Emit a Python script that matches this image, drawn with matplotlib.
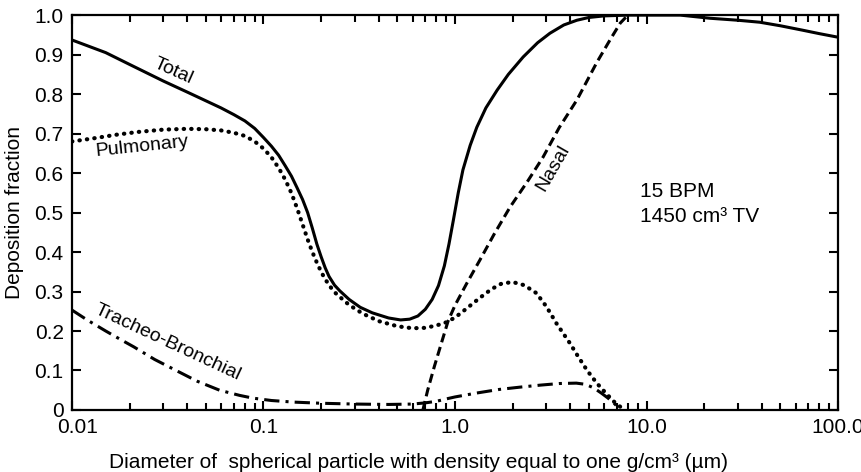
import numpy as np
from matplotlib import pyplot as plt
from matplotlib import transforms
from matplotlib.ticker import FixedLocator, LogLocator, NullFormatter

plt.rcParams['font.family'] = ['Liberation Sans', 'DejaVu Sans']

# values
total_x = [0.01, 0.015, 0.02, 0.03, 0.04, 0.05, 0.06, 0.07, 0.08, 0.09, 0.1, 0.11, 0.12,
           0.13, 0.14, 0.15, 0.16, 0.17, 0.18, 0.19, 0.2, 0.21, 0.22, 0.235, 0.25, 0.28,
           0.32, 0.37, 0.45, 0.52, 0.58, 0.64, 0.7, 0.76, 0.82, 0.88, 0.93, 0.98, 1.04, 1.1,
           1.2, 1.3, 1.45, 1.66, 1.9, 2.27, 2.7, 3.13, 3.7, 4.33, 5.0, 6.0, 8.0, 15.0, 21.5,
           30.0, 39.0, 50.0, 65.0, 80.0, 100.0]
total_y = [0.937, 0.905, 0.875, 0.833, 0.805, 0.783, 0.765, 0.748, 0.732, 0.713, 0.69,
           0.668, 0.645, 0.618, 0.592, 0.562, 0.533, 0.5, 0.46, 0.42, 0.388, 0.36, 0.338,
           0.316, 0.302, 0.28, 0.26, 0.246, 0.233, 0.228, 0.23, 0.238, 0.255, 0.28, 0.315,
           0.365, 0.42, 0.48, 0.55, 0.608, 0.67, 0.716, 0.765, 0.81, 0.85, 0.894, 0.93, 0.954,
           0.975, 0.987, 0.994, 0.998, 1.0, 1.0, 0.992, 0.987, 0.982, 0.973, 0.962, 0.953,
           0.944]

pulm_x = [0.01, 0.013, 0.017, 0.022, 0.03, 0.04, 0.05, 0.06, 0.07, 0.08, 0.09, 0.1, 0.11,
          0.12, 0.13, 0.14, 0.15, 0.16, 0.17, 0.18, 0.19, 0.2, 0.21, 0.225, 0.24, 0.28, 0.33,
          0.4, 0.5, 0.6, 0.7, 0.8, 0.9, 1.0, 1.15, 1.34, 1.55, 1.75, 2.0, 2.3, 2.66, 3.0,
          3.4, 3.97, 4.4, 4.9, 5.5, 6.2, 6.8, 7.3, 7.6]
pulm_y = [0.68, 0.688, 0.697, 0.704, 0.71, 0.712, 0.711, 0.708, 0.702, 0.694, 0.68, 0.662,
          0.64, 0.613, 0.583, 0.549, 0.51, 0.47, 0.432, 0.4, 0.373, 0.35, 0.331, 0.31, 0.294,
          0.266, 0.244, 0.225, 0.212, 0.207, 0.208, 0.214, 0.222, 0.234, 0.257, 0.283, 0.306,
          0.32, 0.324, 0.316, 0.296, 0.262, 0.218, 0.17, 0.135, 0.10, 0.068, 0.04, 0.02,
          0.008, 0.0]

tb_x = [0.01, 0.012, 0.015, 0.018, 0.021, 0.027, 0.035, 0.045, 0.059, 0.075, 0.088, 0.11,
        0.143, 0.2, 0.3, 0.45, 0.6, 0.7, 0.8, 0.9, 1.0, 1.3, 1.7, 2.2, 2.8, 3.5, 4.3, 4.8,
        5.3, 5.8, 6.3, 6.8, 7.2]
tb_y = [0.253, 0.228, 0.2, 0.178, 0.16, 0.128, 0.10, 0.073, 0.05, 0.037, 0.03, 0.024, 0.02,
        0.017, 0.015, 0.014, 0.015, 0.018, 0.022, 0.028, 0.033, 0.043, 0.052, 0.058, 0.063,
        0.067, 0.068, 0.065, 0.056, 0.043, 0.03, 0.016, 0.004]

nasal_x = [0.68, 0.72, 0.78, 0.85, 0.92, 1.0, 1.15, 1.35, 1.6, 1.94, 2.4, 2.88, 3.5, 4.33,
           5.5, 6.5, 7.3, 8.0]
nasal_y = [0.0, 0.05, 0.11, 0.17, 0.225, 0.265, 0.32, 0.38, 0.445, 0.514, 0.58, 0.64, 0.715,
           0.785, 0.88, 0.94, 0.98, 1.0]

x_ticks = [0.01, 0.1, 1.0, 10.0, 100.0]
x_tick_labels = ['0.01', '0.1', '1.0', '10.0', '100.0']
y_ticks = [0, 0.1, 0.2, 0.3, 0.4, 0.5, 0.6, 0.7, 0.8, 0.9, 1.0]
y_tick_labels = ['0', '0.1', '0.2', '0.3', '0.4', '0.5', '0.6', '0.7', '0.8', '0.9', '1.0']


def draw_chart():
    fig = plt.figure(figsize=(8.61, 4.72), dpi=100)
    ax = fig.add_axes([0.0836, 0.1314, 0.8897, 0.8366])

    ax.plot(total_x, total_y, color='black', lw=2.2, solid_capstyle='round')
    ax.plot(pulm_x, pulm_y, color='black', lw=3.0, linestyle=(0, (0.1, 1.7)),
            dash_capstyle='round')
    ax.plot(tb_x, tb_y, color='black', lw=2.2, linestyle=(0, (5, 2, 1, 2)))
    ax.plot(nasal_x, nasal_y, color='black', lw=2.2, linestyle=(0, (3, 1.6)))

    ax.set_xscale('log')
    ax.set_xlim(0.01, 100)
    ax.set_ylim(0, 1.0)

    ax.xaxis.set_major_locator(FixedLocator(x_ticks))
    ax.set_xticklabels(x_tick_labels)
    ax.xaxis.set_minor_locator(LogLocator(base=10, subs=np.arange(2, 10)))
    ax.xaxis.set_minor_formatter(NullFormatter())
    ax.set_yticks(y_ticks)
    ax.set_yticklabels(y_tick_labels)

    ax.tick_params(which='both', direction='in', top=True, right=True,
                   labelsize=15, width=1.5, pad=6)
    ax.tick_params(which='major', length=6.5)
    ax.tick_params(which='minor', length=5)
    for s in ax.spines.values():
        s.set_linewidth(1.6)

    # first x label sits a little right of its tick in the original
    lbl = ax.get_xticklabels()[0]
    lbl.set_transform(lbl.get_transform() +
                      transforms.ScaledTranslation(4 / 72, 0, fig.dpi_scale_trans))

    ax.set_xlabel('Diameter of  spherical particle with density equal to one g/cm³ (µm)',
                  fontsize=15)
    ax.xaxis.set_label_coords(0.452, -0.11)
    ax.set_ylabel('Deposition fraction', fontsize=15)
    ax.yaxis.set_label_coords(-0.062, 0.5)

    # curve labels
    ax.text(0.0337, 0.858, 'Total', fontsize=14, rotation=-24, ha='center', va='center',
            rotation_mode='anchor')
    ax.text(0.0232, 0.666, 'Pulmonary', fontsize=14, rotation=6, ha='center', va='center',
            rotation_mode='anchor')
    ax.text(0.0317, 0.17, 'Tracheo-Bronchial', fontsize=14, rotation=-25, ha='center',
            va='center', rotation_mode='anchor')
    ax.text(3.25, 0.613, 'Nasal', fontsize=14, rotation=60, ha='center', va='center',
            rotation_mode='anchor')
    ax.text(9.25, 0.539, '15 BPM', fontsize=15, ha='left', va='baseline')
    ax.text(9.25, 0.476, '1450 cm³ TV', fontsize=15, ha='left', va='baseline')

    fig.savefig('out.png', dpi=100)
    print('save chart: out.png')


if __name__ == "__main__":
    draw_chart()
